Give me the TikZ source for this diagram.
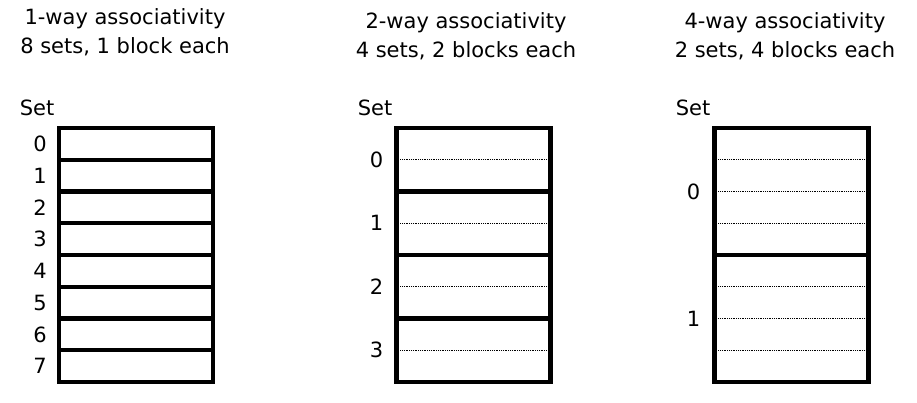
\documentclass[tikz,border=0pt]{standalone}
\usepackage{fontspec}
\setmainfont{DejaVu Sans}
\usetikzlibrary{positioning}
\usetikzlibrary{calc}
\tikzset{setbox/.style={draw, line width=4.3pt, minimum width=154pt, inner sep=0pt, outer sep=0pt}}
\tikzset{lbl/.style={font=\fontsize{21}{24}\selectfont, inner sep=0pt}}
\tikzset{title/.style={font=\fontsize{21}{29}\selectfont, align=center, inner sep=0pt}}
\tikzset{way/.style={densely dotted, line width=0.8pt}}

\begin{document}
\begin{tikzpicture}[x=1pt, y=-1pt]
	\useasboundingbox (0,0) rectangle (917,403);
	% titles
	\node [style=title] (t1) at (125, 32.5) {1-way associativity\\8 sets, 1 block each};
	\node [style=title] (t2) at (466, 36.5) {2-way associativity\\4 sets, 2 blocks each};
	\node [style=title] (t3) at (785, 36.5) {4-way associativity\\2 sets, 4 blocks each};
	\node [style=lbl] (h1) at (37, 108) {Set};
	\node [style=lbl] (h2) at (375, 108) {Set};
	\node [style=lbl] (h3) at (693, 108) {Set};
	% 1-way
	\foreach \i in {0,...,7} {
		\node [style=setbox, minimum height=31.75pt] (a\i) at (136, 128+31.75*\i+15.875) {};
		\node [style=lbl, anchor=east, left=12pt of a\i] {\i};
	}
	% 2-way
	\foreach \i in {0,...,3} {
		\node [style=setbox, minimum height=63.5pt] (b\i) at (473.5, 128+63.5*\i+31.75) {};
		\node [style=lbl, anchor=east, left=13pt of b\i] {\i};
		\draw [style=way] (b\i.west) -- (b\i.east);
	}
	% 4-way
	\foreach \i in {0,1} {
		\node [style=setbox, minimum height=127pt] (c\i) at (791.5, 128+127*\i+63.5) {};
		\node [style=lbl, anchor=east, left=14pt of c\i] {\i};
		\draw [style=way] (c\i.west) -- (c\i.east);
		\draw [style=way] ($(c\i.north west)!0.25!(c\i.south west)$) -- ($(c\i.north east)!0.25!(c\i.south east)$);
		\draw [style=way] ($(c\i.north west)!0.75!(c\i.south west)$) -- ($(c\i.north east)!0.75!(c\i.south east)$);
	}
\end{tikzpicture}
\end{document}
